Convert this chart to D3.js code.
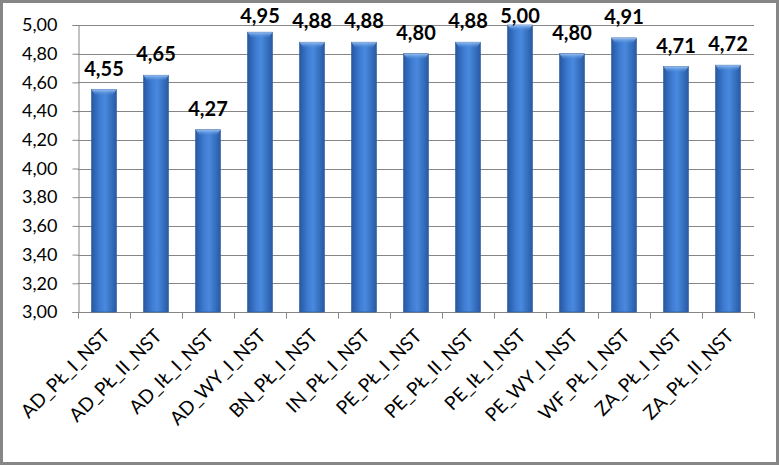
<!DOCTYPE html>
<html><head><meta charset="utf-8">
<script src="https://cdn.jsdelivr.net/npm/d3@7"></script>
<style>html,body{margin:0;padding:0;background:#fff;}svg{display:block;}</style>
</head><body>
<script>
const categories = ["AD_PŁ_I_NST","AD_PŁ_II_NST","AD_IŁ_I_NST","AD_WY_I_NST","BN_PŁ_I_NST","IN_PŁ_I_NST","PE_PŁ_I_NST","PE_PŁ_II_NST","PE_IŁ_I_NST","PE_WY_I_NST","WF_PŁ_I_NST","ZA_PŁ_I_NST","ZA_PŁ_II_NST"];
const values = [4.55,4.65,4.27,4.95,4.88,4.88,4.80,4.88,5.00,4.80,4.91,4.71,4.72];
const yTicks = [3.0,3.2,3.4,3.6,3.8,4.0,4.2,4.4,4.6,4.8,5.0];

const W = 779, H = 465;
const m = {left:78, right:25, top:25, bottom:153};
const fmt = v => v.toFixed(2).replace(".", ",");
const font = "Lato, 'Open Sans', sans-serif";

const svg = d3.select("body").append("svg").attr("width", W).attr("height", H);
const defs = svg.append("defs");
const g1 = defs.append("linearGradient").attr("id","barg").attr("x1","0").attr("x2","1").attr("y1","0").attr("y2","0");
g1.append("stop").attr("offset","0%").attr("stop-color","#2658a2");
g1.append("stop").attr("offset","35%").attr("stop-color","#3f7dd3");
g1.append("stop").attr("offset","55%").attr("stop-color","#4889de");
g1.append("stop").attr("offset","100%").attr("stop-color","#275aa3");
const g2 = defs.append("linearGradient").attr("id","topg").attr("x1","0").attr("x2","0").attr("y1","0").attr("y2","1");
g2.append("stop").attr("offset","0%").attr("stop-color","#9cc3f3");
g2.append("stop").attr("offset","100%").attr("stop-color","#4a88da").attr("stop-opacity",0);

svg.append("rect").attr("x",1.5).attr("y",1.5).attr("width",W-3).attr("height",H-3)
  .attr("fill","#fff").attr("stroke","#868686").attr("stroke-width",3);

const x = d3.scaleBand().domain(categories).range([m.left, W - m.right]).paddingInner(0.52).paddingOuter(0.26);
const y = d3.scaleLinear().domain([3, 5]).range([H - m.bottom, m.top]);

// gridlines
svg.append("g").selectAll("line").data(yTicks.filter(t => t > 3)).join("line")
  .attr("x1", m.left).attr("x2", W - m.right)
  .attr("y1", d => Math.round(y(d)) + 0.5).attr("y2", d => Math.round(y(d)) + 0.5)
  .attr("stroke","#868686").attr("stroke-width",1);

// y axis
const ya = svg.append("g").attr("transform", `translate(${m.left + 0.5},0)`)
  .call(d3.axisLeft(y).tickValues(yTicks).tickFormat(fmt).tickSize(6).tickPadding(15));
ya.select(".domain").attr("stroke","#868686");
ya.selectAll(".tick line").attr("stroke","#868686");
ya.selectAll("text").attr("font-family", font).attr("font-size", 18).attr("fill","#000");

// x axis
const xb = d3.scaleBand().domain(categories).range([m.left, W - m.right]);
const xa = svg.append("g").attr("transform", `translate(0,${Math.round(y(3)) + 0.5})`);
xa.append("line").attr("x1", m.left).attr("x2", W - m.right).attr("stroke","#868686");
xa.selectAll(".tk").data(d3.range(categories.length + 1)).join("line")
  .attr("x1", i => Math.round(m.left + i * xb.step()) + 0.5).attr("x2", i => Math.round(m.left + i * xb.step()) + 0.5)
  .attr("y1", 0).attr("y2", 6).attr("stroke","#868686");

// bars
const bars = svg.append("g");
bars.selectAll("rect.bar").data(values).join("rect").attr("class","bar")
  .attr("x", (d,i) => x(categories[i])).attr("width", x.bandwidth())
  .attr("y", d => y(d)).attr("height", d => y(3) - y(d))
  .attr("fill","url(#barg)").attr("stroke","#2b5797").attr("stroke-width",0.6);
bars.selectAll("path.top").data(values).join("path").attr("class","top")
  .attr("d", (d,i) => {
    const x0 = x(categories[i]), w = x.bandwidth(), t = y(d);
    return `M${x0},${t}L${x0+w},${t}L${x0+w-4},${t+6}L${x0+4},${t+6}Z`;
  })
  .attr("fill","url(#topg)");

// value labels
svg.append("g").selectAll("text").data(values).join("text")
  .attr("x", (d,i) => x(categories[i]) + x.bandwidth()/2)
  .attr("y", d => Math.max(y(d) - 14, 23))
  .attr("text-anchor","middle")
  .attr("font-family", font).attr("font-size", 20).attr("font-weight","bold")
  .text(fmt);

// x labels
svg.append("g").selectAll("text").data(categories).join("text")
  .attr("transform", d => `translate(${xb(d) + xb.bandwidth()/2 + 7},${y(3) + 25}) rotate(-45)`)
  .attr("text-anchor","end")
  .attr("font-family", font).attr("font-size", 19)
  .text(d => d);
</script>
</body></html>
